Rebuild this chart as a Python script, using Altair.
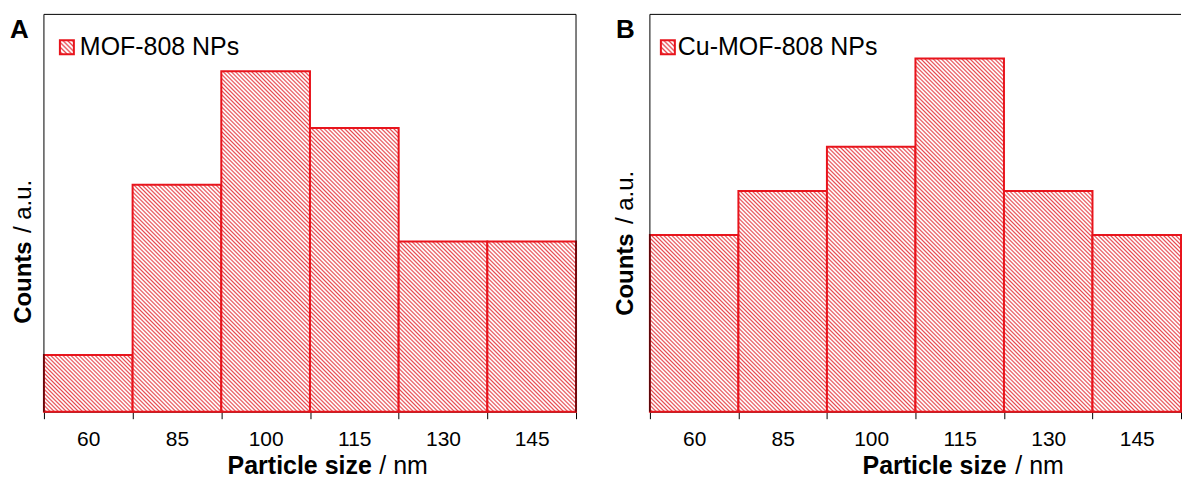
import math
import altair as alt
import pandas as pd

# ---- data ----
sizes = ["60", "85", "100", "115", "130", "145"]
counts_a = [1, 4, 6, 5, 3, 3]
counts_b = [4, 5, 6, 8, 5, 4]
ymax_a = 7
ymax_b = 9
label_a = "MOF-808 NPs"
label_b = "Cu-MOF-808 NPs"
letter_a = "A"
letter_b = "B"
ytitle_bold = "Counts"
ytitle_rest = "/ a.u."
xtitle_bold = "Particle size"
xtitle_rest = "/ nm"

# ---- style ----
RED = "#e8141c"
STRIPE = "#e64a50"
FONT = "Liberation Sans"
W_A = 533
W_B = 532
H = 398


def hatch(w, h, hperiod=4.1):
    """Diagonal (\\) stripe fill built as a periodic linear gradient."""
    d = (w + h) / math.sqrt(2)
    period = hperiod / math.sqrt(2)
    n = max(1, round(d / period))
    s = (1 / h + 1 / w) / (1 / h ** 2 + 1 / w ** 2)
    x2 = s / h
    y2 = 1 - s / w
    stops = []
    for k in range(n):
        stops += [
            alt.GradientStop(color="white", offset=round(k / n, 6)),
            alt.GradientStop(color="white", offset=round((k + 0.2) / n, 6)),
            alt.GradientStop(color=STRIPE, offset=round((k + 0.6) / n, 6)),
        ]
    stops.append(alt.GradientStop(color="white", offset=1))
    return alt.LinearGradient(gradient="linear", stops=stops, x1=0, y1=1, x2=x2, y2=y2)


one = pd.DataFrame({"k": [0]})


def txt(text, x, y, size=24, bold=False, angle=0, baseline="alphabetic"):
    kw = dict(text=text, font=FONT, fontSize=size, color="black", align="left",
              baseline=baseline, fontWeight="bold" if bold else "normal")
    if angle:
        kw["angle"] = angle
    return alt.Chart(one).mark_text(**kw).encode(x=alt.value(x), y=alt.value(y))


def panel(counts, ymax, width, label, letter, pos, right_border):
    df = pd.DataFrame({"size": sizes, "count": counts})
    xenc = alt.X(
        "size:N", sort=sizes,
        scale=alt.Scale(domain=sizes, paddingInner=0, paddingOuter=0),
        axis=alt.Axis(title=None, tickBand="extent", labelAngle=0, labelFontSize=21,
                      labelFont=FONT, labelColor="black", labelBaseline="alphabetic",
                      labelPadding=27, tickSize=7, tickColor="black", tickWidth=1,
                      domainColor="black", domainWidth=1, grid=False),
    )
    yenc = alt.Y("count:Q", scale=alt.Scale(domain=[0, ymax], nice=False, zero=True), axis=None)
    bw = width / len(sizes)
    layers = []
    for s, c in zip(sizes, counts):
        h = c / ymax * H
        layers.append(
            alt.Chart(df).transform_filter(alt.datum.size == s)
            .mark_bar(fill=hatch(bw, h), stroke=RED, strokeWidth=2)
            .encode(x=xenc, y=yenc)
        )
    # frame
    frame = [
        alt.Chart(one).mark_rule(color="black", strokeWidth=1).encode(
            x=alt.value(0), y=alt.value(0), y2=alt.value(H)),
        alt.Chart(one).mark_rule(color="black", strokeWidth=1).encode(
            x=alt.value(0), x2=alt.value(width), y=alt.value(0)),
    ]
    if right_border:
        frame.append(alt.Chart(one).mark_rule(color="black", strokeWidth=1).encode(
            x=alt.value(width), y=alt.value(0), y2=alt.value(H)))
    legend = [
        alt.Chart(one).mark_rect(fill=hatch(14, 14, hperiod=5), stroke=RED, strokeWidth=2)
        .encode(x=alt.value(pos["sx"]), x2=alt.value(pos["sx"] + 14),
                y=alt.value(26), y2=alt.value(40)),
        txt(label, pos["tx"], 41, size=25),
    ]
    texts = [
        txt(letter, -34, 24, size=26, bold=True),
        txt(ytitle_bold, pos["yx"], pos["cy"], size=24, bold=True, angle=270, baseline="middle"),
        txt(ytitle_rest, pos["yx"], pos["ay"], size=24, angle=270, baseline="middle"),
        txt(xtitle_bold, pos["px"], 460, size=25, bold=True),
        txt(xtitle_rest, pos["nx"], 460, size=25),
    ]
    return alt.layer(*layers, *frame, *legend, *texts).properties(width=width, height=H)


pos_a = dict(sx=16, tx=36, yx=-20, cy=310, ay=219, px=184, nx=336)
pos_b = dict(sx=11, tx=28, yx=-24, cy=302, ay=210, px=213, nx=366)

chart_a = panel(counts_a, ymax_a, W_A, label_a, letter_a, pos_a, True)
chart_b = panel(counts_b, ymax_b, W_B, label_b, letter_b, pos_b, False)

chart = (
    alt.hconcat(chart_a, chart_b, spacing=37)
    .properties(padding={"left": 10, "top": 13, "right": 0, "bottom": 0})
    .configure(font=FONT)
    .configure_view(stroke=None)
)

chart.save("out.html", embed_options={"renderer": "svg", "actions": False})
